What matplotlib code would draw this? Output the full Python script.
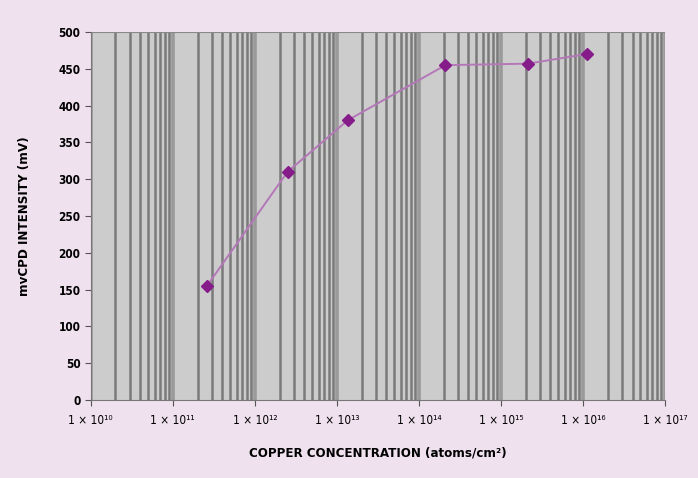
import matplotlib.pyplot as plt
from matplotlib.ticker import LogLocator, FixedLocator

# data
copper = [2.6e11, 2.5e12, 1.35e13, 2.1e14, 2.1e15, 1.1e16]
intensity = [155, 310, 380, 455, 457, 470]

decades = list(range(10, 18))
xtick_vals = [10.0 ** d for d in decades]
sup = str.maketrans('0123456789', '⁰¹²³⁴⁵⁶⁷⁸⁹')
xtick_labels = ['1 × 10' + str(d).translate(sup) for d in decades]
ytick_vals = list(range(0, 501, 50))

plt.rcParams['font.family'] = ['DejaVu Sans']
plt.rcParams['font.stretch'] = 'condensed'

bg = '#f0e1ef'
fig = plt.figure(figsize=(6.98, 4.78), dpi=100, facecolor=bg)
ax = fig.add_axes([0.130, 0.163, 0.823, 0.770])
ax.set_facecolor('#cccccc')

ax.set_xscale('log')
ax.set_xlim(1e10, 1e17)
ax.set_ylim(0, 500)

ax.xaxis.set_major_locator(FixedLocator(xtick_vals))
ax.xaxis.set_minor_locator(LogLocator(base=10, subs=range(2, 10), numticks=20))
ax.set_xticks(xtick_vals)
ax.set_xticklabels(xtick_labels, fontsize=8.5)
ax.set_yticks(ytick_vals)
for lbl in ax.get_yticklabels():
    lbl.set_fontweight('bold')
    lbl.set_fontsize(8.5)
ax.tick_params(axis='y', length=4, color='#555555')
ax.tick_params(axis='x', which='major', length=4, color='#555555', pad=6)
ax.tick_params(axis='x', which='minor', length=0)

# vertical grid lines
ax.grid(True, axis='x', which='minor', color='#7a7a7a', linewidth=1.8)
ax.grid(True, axis='x', which='major', color='#9a9a9a', linewidth=2.6)
ax.set_axisbelow(True)

for side in ['top', 'right']:
    ax.spines[side].set_visible(False)
ax.spines['left'].set_color('#777777')
ax.spines['bottom'].set_color('#777777')
ax.axhline(500, color='#888888', linewidth=1.5, zorder=1)

ax.plot(copper, intensity, color='#b478b8', linewidth=1.4, zorder=3)
ax.plot(copper, intensity, linestyle='none', marker='D', markersize=6.5,
        color='#851c8a', zorder=4)

ax.set_xlabel('COPPER CONCENTRATION (atoms/cm²)', fontsize=9.5,
              fontweight='bold', labelpad=14)
ax.set_ylabel('mvCPD INTENSITY (mV)', fontsize=9.5, fontweight='bold',
              labelpad=20)

plt.savefig('out.png', dpi=100, facecolor=bg)
